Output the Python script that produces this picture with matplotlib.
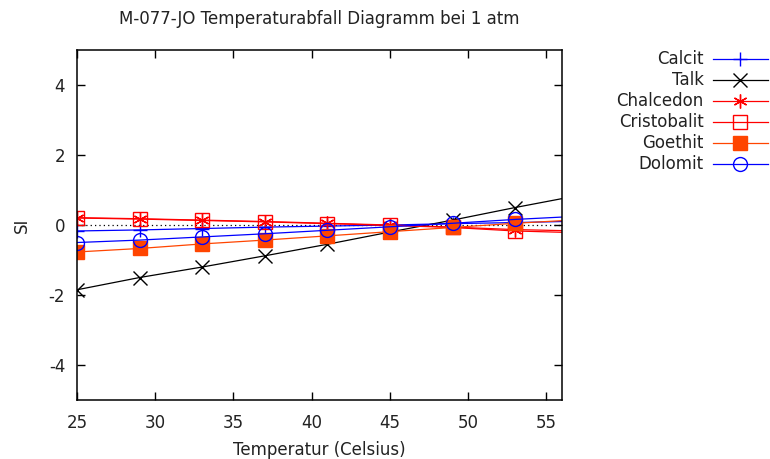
import numpy as np
import matplotlib
matplotlib.use("Agg")
import matplotlib.pyplot as plt

# data
temps = [25, 29, 33, 37, 41, 45, 49, 53, 57]
calcit = [-0.17, -0.14, -0.10, -0.06, -0.03, 0.00, 0.04, 0.07, 0.11]
talk = [-1.85, -1.50, -1.20, -0.88, -0.55, -0.20, 0.14, 0.50, 0.84]
chalcedon = [0.21, 0.18, 0.14, 0.10, 0.05, 0.00, -0.06, -0.13, -0.17]
cristobalit = [0.20, 0.17, 0.13, 0.09, 0.04, -0.01, -0.07, -0.17, -0.22]
goethit = [-0.77, -0.67, -0.54, -0.43, -0.31, -0.19, -0.07, 0.05, 0.15]
dolomit = [-0.50, -0.43, -0.34, -0.25, -0.15, -0.05, 0.05, 0.16, 0.25]

series = [
    ("Calcit", calcit, "#0000ff", dict(marker="+", mfc="none")),
    ("Talk", talk, "#000000", dict(marker="x", mfc="none")),
    ("Chalcedon", chalcedon, "#ff0000", dict(marker=(6, 2, 0), mfc="none")),
    ("Cristobalit", cristobalit, "#ff0000", dict(marker="s", mfc="none")),
    ("Goethit", goethit, "#ff4500", dict(marker="s", mfc="#ff4500")),
    ("Dolomit", dolomit, "#0000ff", dict(marker="o", mfc="none")),
]

plt.rcParams['font.family'] = ['DejaVu Sans']
plt.rcParams['axes.unicode_minus'] = False
fs = 12

fig = plt.figure(figsize=(7.7, 4.59), dpi=100)
ax = fig.add_axes([0.1, 0.1285, 0.63, 0.7625])

# dotted zero axis
ax.axhline(0, color="black", lw=0.9, ls=(0, (1, 2.5)), zorder=1)

for name, ys, col, mk in series:
    ax.plot(temps, ys, color=col, lw=0.9, ms=10, mew=1.0, mec=col,
            label=name, zorder=2, **mk)

ax.set_xlim(25, 56)
ax.set_ylim(-5, 5)
ax.set_xticks([25, 30, 35, 40, 45, 50, 55])
ax.set_yticks([-4, -2, 0, 2, 4])
ax.tick_params(direction="in", length=6, width=1, top=True, right=True,
               labelsize=fs, colors="black", labelcolor="#222222")
ax.tick_params(axis="x", pad=10)
ax.tick_params(axis="y", pad=8.5)
for s in ax.spines.values():
    s.set_linewidth(1.1)

ax.set_title("M-077-JO Temperaturabfall Diagramm bei 1 atm", fontsize=fs,
             pad=19, color="#222222")
ax.set_xlabel("Temperatur (Celsius)", fontsize=fs, color="#222222", va="center")
ax.set_ylabel("SI", fontsize=fs, color="#222222", va="center")
ax.xaxis.set_label_coords(0.5, -0.143)
ax.yaxis.set_label_coords(-0.114, 0.5)

fig.legend(loc="upper right", bbox_to_anchor=(0.997, 0.89), frameon=False,
           markerfirst=False, handlelength=3.3, handletextpad=0.55,
           labelspacing=0.18, borderpad=0, borderaxespad=0, fontsize=fs,
           labelcolor="#222222")

fig.savefig("out.png", dpi=100)
